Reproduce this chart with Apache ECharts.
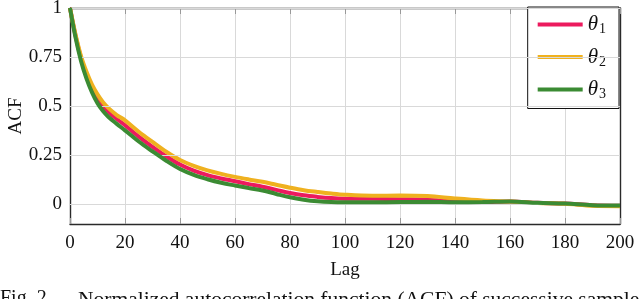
<!DOCTYPE html>
<html>
<head>
<meta charset="utf-8">
<script src="https://cdn.jsdelivr.net/npm/echarts@6/dist/echarts.min.js"></script>
<style>
html,body{margin:0;padding:0;background:#fff;}
#chart{width:640px;height:299px;}
</style>
</head>
<body>
<div id="chart"></div>
<script>
// ---- data ----
const lags = [0, 2, 4, 6, 8, 10, 12, 14, 17, 20, 25, 30, 35, 40, 45, 50, 55, 60, 65, 70, 75, 80, 85, 90, 95, 100, 110, 120, 130, 140, 150, 160, 170, 180, 190, 200];
const theta1 = [1.0, 0.86, 0.745, 0.655, 0.59, 0.54, 0.5, 0.47, 0.435, 0.403, 0.345, 0.293, 0.245, 0.203, 0.172, 0.149, 0.132, 0.118, 0.103, 0.09, 0.074, 0.058, 0.046, 0.038, 0.032, 0.029, 0.028, 0.026, 0.023, 0.014, 0.012, 0.015, 0.008, 0.004, -0.004, -0.007];
const theta2 = [1.0, 0.865, 0.755, 0.675, 0.61, 0.56, 0.52, 0.49, 0.455, 0.428, 0.37, 0.318, 0.268, 0.226, 0.196, 0.173, 0.155, 0.14, 0.127, 0.115, 0.1, 0.085, 0.072, 0.063, 0.055, 0.049, 0.044, 0.045, 0.042, 0.03, 0.02, 0.014, 0.007, 0.003, -0.007, -0.009];
const theta3 = [1.0, 0.85, 0.73, 0.64, 0.57, 0.515, 0.475, 0.445, 0.41, 0.377, 0.32, 0.27, 0.222, 0.18, 0.15, 0.128, 0.11, 0.096, 0.083, 0.071, 0.053, 0.036, 0.024, 0.016, 0.012, 0.011, 0.011, 0.012, 0.013, 0.011, 0.012, 0.015, 0.008, 0.004, -0.004, -0.006];
const seriesNames = ['θ1', 'θ2', 'θ3'];
const seriesColors = ['#EC1A5E', '#EFB11F', '#3B8B33'];
const yTicks = [0, 0.25, 0.5, 0.75, 1];
const xLabel = 'Lag';
const yLabel = 'ACF';
const captionFig = 'Fig. 2.';
const captionText = 'Normalized autocorrelation function (ACF) of successive samples';

const FONT = 'Liberation Serif';
const allValues = [theta1, theta2, theta3];

const chart = echarts.init(document.getElementById('chart'), null, {renderer: 'canvas'});

const tickStyle = {show: true, inside: true, length: 6, lineStyle: {color: '#999', width: 1}};
const lineStyle = {show: true, onZero: false, lineStyle: {color: '#2a2a2a', width: 1.4}};

const series = seriesNames.map(function (n, i) {
  return {
    name: n, type: 'line', xAxisIndex: 0, yAxisIndex: 0,
    symbol: 'none', smooth: 0.35,
    lineStyle: {width: 4, color: seriesColors[i]},
    itemStyle: {color: seriesColors[i]},
    data: lags.map(function (l, j) { return [l, allValues[i][j]]; }),
    z: 3 + i
  };
});
// horizontal grid lines at the y tick values
series.unshift({
  name: 'grid', type: 'line', xAxisIndex: 0, yAxisIndex: 0, data: [], z: 1, silent: true,
  markLine: {
    silent: true, symbol: ['none', 'none'], label: {show: false}, animation: false,
    lineStyle: {color: '#d9d9d9', width: 1, type: 'solid'},
    data: yTicks.map(function (v) { return {yAxis: v}; })
  }
});

const option = {
  animation: false,
  backgroundColor: '#fff',
  grid: {left: 70, right: 20, top: 8, bottom: 75, containLabel: false, outerBoundsMode: 'none'},
  legend: {
    orient: 'vertical',
    right: 21,
    top: 7,
    padding: [7, 13, 7, 10],
    itemGap: 10,
    itemWidth: 45,
    itemHeight: 4,
    icon: 'rect',
    borderColor: '#111',
    borderWidth: 1,
    backgroundColor: '#fff',
    data: seriesNames,
    formatter: function (name) { return '{t|θ}{s|' + name.slice(1) + '}'; },
    textStyle: {
      fontFamily: FONT,
      color: '#111',
      rich: {
        t: {fontFamily: FONT, fontStyle: 'italic', fontSize: 21, color: '#111'},
        s: {fontFamily: FONT, fontSize: 14, color: '#111', padding: [10, 0, 0, 1]}
      }
    }
  },
  xAxis: [{
    type: 'value', min: 0, max: 200, interval: 20, position: 'bottom',
    name: xLabel, nameLocation: 'middle', nameGap: 37,
    nameTextStyle: {fontFamily: FONT, fontSize: 19, color: '#111'},
    axisLine: lineStyle, axisTick: tickStyle,
    axisLabel: {fontFamily: FONT, fontSize: 19, color: '#111', margin: 10},
    splitLine: {show: true, lineStyle: {color: '#d9d9d9', width: 1}}
  }, {
    type: 'value', min: 0, max: 200, interval: 20, position: 'top',
    axisLine: lineStyle, axisTick: tickStyle, axisLabel: {show: false}, splitLine: {show: false}
  }],
  yAxis: [{
    type: 'value', min: -0.1, max: 1, position: 'left',
    name: yLabel, nameLocation: 'middle', nameGap: 44, nameRotate: 90, nameMoveOverlap: false,
    nameTextStyle: {fontFamily: FONT, fontSize: 19, color: '#111'},
    axisLine: lineStyle,
    axisTick: {show: false},
    axisLabel: {fontFamily: FONT, fontSize: 19, color: '#111', margin: 8, customValues: yTicks},
    splitLine: {show: false}
  }, {
    type: 'value', min: -0.1, max: 1, position: 'right',
    axisLine: lineStyle,
    axisTick: {show: false},
    axisLabel: {show: false}, splitLine: {show: false}
  }],
  series: series,
  graphic: [
    {type: 'text', left: 0, top: 289, style: {text: captionFig, font: '20px "' + FONT + '"', fill: '#111'}},
    {type: 'text', left: 78, top: 289, style: {text: captionText, font: '21.5px "' + FONT + '"', fill: '#111'}}
  ]
};
chart.setOption(option);
</script>
</body>
</html>
